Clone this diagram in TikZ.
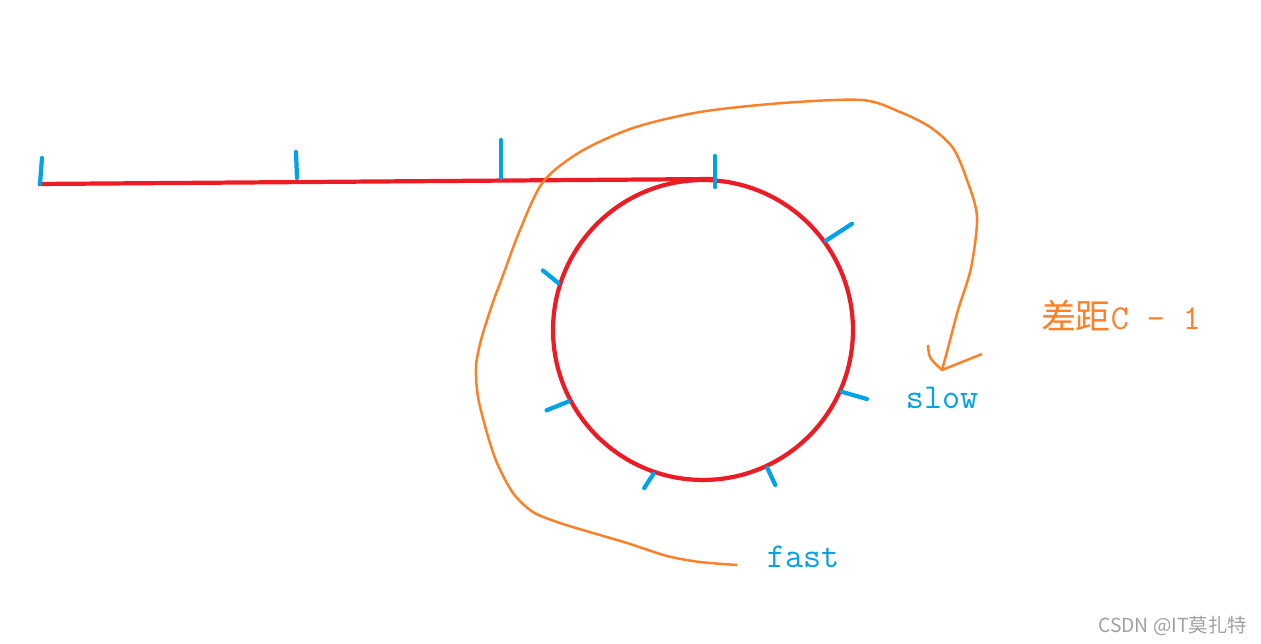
\documentclass[tikz,border=0pt]{standalone}
\usepackage{fontspec}
\newfontfamily\cjk{Noto Sans CJK SC}
\definecolor{pred}{RGB}{237,28,36}
\definecolor{pblue}{RGB}{0,162,232}
\definecolor{porange}{RGB}{255,127,39}
\definecolor{pgray}{RGB}{160,160,160}

\begin{document}
\begin{tikzpicture}[x=0.02cm, y=0.02cm,
    redline/.style={draw=pred, line width=2.4pt},
    bluetick/.style={draw=pblue, line width=2.4pt, line cap=round},
    orangeline/.style={draw=porange, line width=1.4pt, line join=round},
    word/.style={font=\fontsize{19.9}{24}\selectfont\ttfamily, inner sep=0pt}]
\useasboundingbox (0,0) rectangle (1261,-644);
% path and loop
\coordinate (start) at (38,-184);
\coordinate (entry) at (715,-179);
\draw[redline] (start) -- (entry);
\node[circle, redline, minimum size=6cm, inner sep=0pt] (ring) at (703,-330) {};
% steps on the path
\draw[bluetick] (40,-184) -- (42,-158);
\draw[bluetick] (297,-178) -- (296,-152);
\draw[bluetick] (501,-178) -- (501,-140);
\draw[bluetick] (entry) ++(0,23) -- ++(0,-31);
% steps on the loop
\foreach \a/\d/\l in {36/33/31, 162/141/20, -24/-16/26, 208/202/24, 251/237/17, 295/295/19}
  \draw[bluetick] (ring.\a) -- ++(\d:\l);
% fast goes round to slow
\coordinate (tail) at (737,-565);
\coordinate (tip) at (942,-370);
\draw[orangeline] plot[smooth, tension=0.5] coordinates {(tail) (700,-562) (667,-556)
  (627,-543) (593,-533) (560,-523) (533,-512) (513,-493) (497,-463) (487,-433)
  (478,-397) (476,-367) (481,-340) (492,-305) (502,-278) (520,-230) (543,-182)
  (580,-152) (633,-128) (700,-112) (783,-103) (862,-100) (900,-112) (930,-127)
  (953,-148) (967,-180) (977,-217) (971,-268) (958,-310) (948,-348) (tip)};
\draw[orangeline] (928,-345) .. controls (929,-358) .. (tip) -- (982,-354);
% labels
\node[word, text=pblue] (slow) at (942,-398) {slow};
\node[word, text=pblue] (fast) at (803,-557) {fast};
\node[word, text=porange] (gap) at (1121,-315) {{\cjk 差距}C - 1};
\node[font=\cjk\fontsize{11}{13}\selectfont, text=pgray, inner sep=0pt, anchor=east] (mark) at (1247,-626) {CSDN @IT莫扎特};
\end{tikzpicture}
\end{document}
